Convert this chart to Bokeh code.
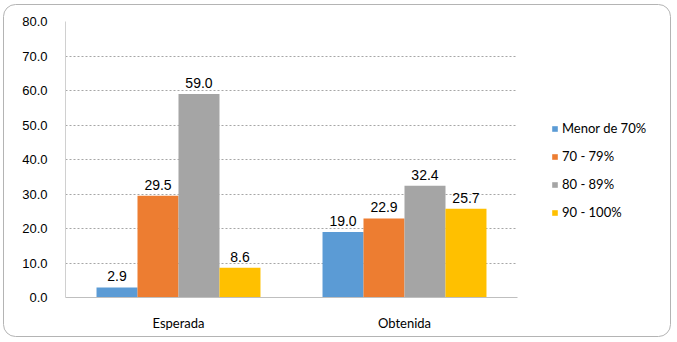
from bokeh.plotting import figure
from bokeh.models import (ColumnDataSource, FactorRange, Range1d, LabelSet, Legend, LegendItem,
                          NumeralTickFormatter, SingleIntervalTicker, InlineStyleSheet)
from bokeh.core.properties import value
from bokeh.transform import dodge
from bokeh.embed import file_html
from bokeh.resources import INLINE

categories = ["Esperada", "Obtenida"]
series_names = ["Menor de 70%", "70 - 79%", "80 - 89%", "90 - 100%"]
menor_70 = [2.9, 19.0]
r70_79 = [29.5, 22.9]
r80_89 = [59.0, 32.4]
r90_100 = [8.6, 25.7]
colors = ["#5B9BD5", "#ED7D31", "#A5A5A5", "#FFC000"]

series_values = [menor_70, r70_79, r80_89, r90_100]

p = figure(frame_width=452, frame_height=276, x_range=FactorRange(*categories, range_padding=0),
           y_range=Range1d(0, 80), output_backend="svg", toolbar_location=None,
           min_border_left=65, min_border_right=160, min_border_top=21, min_border_bottom=45)
p.x_range.range_padding = 0
p.background_fill_color = "white"
p.border_fill_alpha = 0
p.outline_line_color = None

svg_bg = ("data:image/svg+xml;utf8,<svg xmlns='http://www.w3.org/2000/svg' width='677' height='342'>"
          "<rect x='3.5' y='4.5' width='667' height='332' rx='12' ry='12' fill='white' "
          "stroke='%23b4b4b4' stroke-width='1'/></svg>")
p.stylesheets = [InlineStyleSheet(css=':host { background: url("' + svg_bg + '") no-repeat; }')]

bw = 0.1815
offsets = [-0.272, -0.0907, 0.0907, 0.272]
items = []
for name, vals, col, off in zip(series_names, series_values, colors, offsets):
    src = ColumnDataSource(dict(cat=categories, val=vals, lbl=[f"{v:.1f}" for v in vals]))
    r = p.vbar(x=dodge("cat", off, range=p.x_range), top="val", width=bw, source=src,
               fill_color=col, line_color=None)
    labels = LabelSet(x=dodge("cat", off, range=p.x_range), y="val", text="lbl", source=src,
                      text_align="center", text_baseline="bottom", y_offset=6,
                      text_font=value("Liberation Sans"), text_font_size="14px", text_color="#000000")
    p.add_layout(labels)
    items.append(LegendItem(label=name, renderers=[r]))

legend = Legend(items=items, location="center_left", orientation="vertical",
                title=" ", title_text_font_size="12px", title_standoff=8,
                glyph_width=7, glyph_height=7, label_standoff=4, spacing=12, label_height=14,
                label_text_font="Lato", label_text_font_size="13px", label_text_color="#000000",
                background_fill_alpha=0, border_line_color=None, padding=0, margin=34)
p.add_layout(legend, "right")

p.ygrid.grid_line_color = "#a6a6a6"
p.ygrid.grid_line_dash = "2 2"
p.xgrid.grid_line_color = None

p.yaxis.ticker = SingleIntervalTicker(interval=10)
p.yaxis.formatter = NumeralTickFormatter(format="0.0")
p.yaxis.major_tick_line_color = None
p.yaxis.minor_tick_line_color = None
p.yaxis.axis_line_color = "#d0d0d0"
p.yaxis.major_label_text_font = "Liberation Sans"
p.yaxis.major_label_text_font_size = "13px"
p.yaxis.major_label_text_color = "#000000"
p.yaxis.major_label_standoff = 12

p.xaxis.major_tick_line_color = None
p.xaxis.minor_tick_line_color = None
p.xaxis.axis_line_color = "#bfbfbf"
p.xaxis.major_label_text_font = "Lato"
p.xaxis.major_label_text_font_size = "13px"
p.xaxis.major_label_text_color = "#000000"
p.xaxis.major_label_standoff = 11

open("out.html", "w").write(file_html(p, INLINE))
